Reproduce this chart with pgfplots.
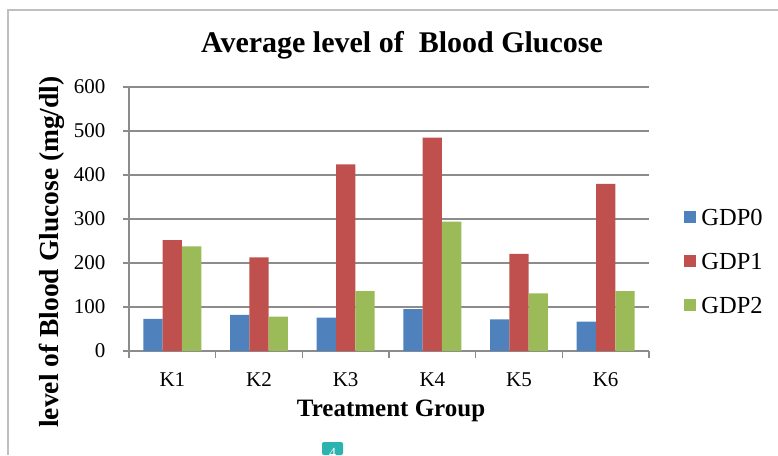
\documentclass[border=0pt]{standalone}
\usepackage{fontspec}
\setmainfont{Liberation Serif}
\usepackage{pgfplots}
\pgfplotsset{compat=1.18}
\definecolor{cA}{HTML}{4F81BD}
\definecolor{cB}{HTML}{C0504D}
\definecolor{cC}{HTML}{9BBB59}
\definecolor{axgray}{HTML}{8C8C8C}
\definecolor{frame}{HTML}{BFBFBF}
\definecolor{badge}{HTML}{2BB3B0}
\begin{document}
\begin{tikzpicture}[x=1pt,y=1pt]
\useasboundingbox (0,0) rectangle (778,455);
\draw[frame, line width=1.5pt] (8,0) -- (8,445) -- (778,445);
\node[font=\fontsize{30}{36}\selectfont\bfseries] at (402,410) {Average level of\ \ Blood Glucose};
\begin{axis}[
  at={(129pt,104pt)}, anchor=south west, scale only axis,
  width=520pt, height=264pt,
  ymin=0, ymax=600, ytick={0,100,...,600},
  xmin=-0.5, xmax=5.5,
  xtick={0,...,5}, xticklabels={K1,K2,K3,K4,K5,K6},
  minor xtick={-0.5,0.5,...,5.5},
  ybar=0pt, bar width=19.3pt,
  axis x line*=bottom, axis y line*=left,
  axis line style={-, draw=axgray, line width=1.3pt},
  tick align=outside,
  major x tick style={draw=none},
  minor x tick style={draw=axgray, line width=1.3pt},
  y tick style={draw=axgray, line width=1.3pt},
  minor tick length=7pt, major tick length=6pt,
  ymajorgrids, grid style={draw=axgray, line width=1.3pt},
  /pgf/number format/assume math mode=true,
  ticklabel style={font=\fontsize{21}{25}\selectfont},
  yticklabel style={xshift=-14pt},
  xticklabel style={yshift=-12pt},
  xlabel={Treatment Group},
  ylabel={level of Blood Glucose (mg/dl)},
  xlabel style={font=\fontsize{25}{30}\selectfont\bfseries, at={(axis description cs:0.504,-0.227)}, anchor=center},
  ylabel style={font=\fontsize{27.5}{32}\selectfont\bfseries, at={(axis description cs:-0.148,0.375)}, anchor=center},
  legend style={at={(axis description cs:1.062,0.337)}, anchor=west, draw=none, fill=none,
    font=\fontsize{24.5}{29}\selectfont, row sep=22pt,
    /tikz/every odd column/.append style={column sep=3pt}},
  legend cell align=left,
]
\addplot[fill=cA, draw=none, legend image code/.code={\fill[cA] (0pt,-5pt) rectangle (12pt,7pt);}] coordinates {(0,73) (1,82) (2,76) (3,95) (4,72) (5,67)};
\addplot[fill=cB, draw=none, legend image code/.code={\fill[cB] (0pt,-5pt) rectangle (12pt,7pt);}] coordinates {(0,252) (1,213) (2,424) (3,485) (4,221) (5,380)};
\addplot[fill=cC, draw=none, legend image code/.code={\fill[cC] (0pt,-5pt) rectangle (12pt,7pt);}] coordinates {(0,238) (1,78) (2,136) (3,294) (4,131) (5,136)};
\legend{GDP0,GDP1,GDP2}
\end{axis}
\fill[badge, rounded corners=2pt] (322,0) rectangle (343,13);
\node[white, font=\fontsize{14}{16}\selectfont, anchor=south] at (332.5,-6) {4};
\end{tikzpicture}
\end{document}
